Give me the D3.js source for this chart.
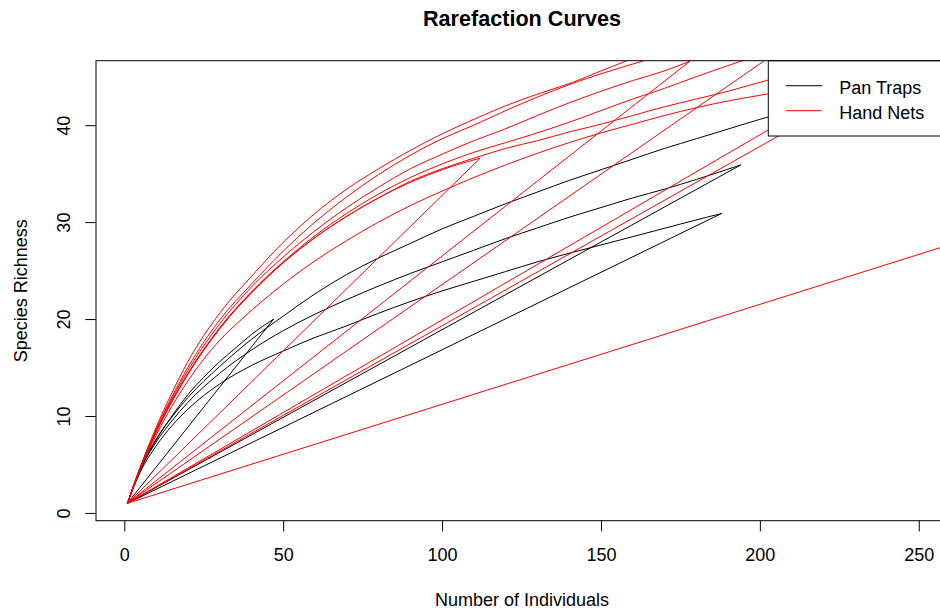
<!DOCTYPE html>
<html>
<head>
<meta charset="utf-8">
<script src="https://cdn.jsdelivr.net/npm/d3@7/dist/d3.min.js"></script>
<style>
  body { margin: 0; background: #fff; }
  svg { display: block; font-family: "Liberation Sans", Arial, Helvetica, sans-serif; }
</style>
</head>
<body>
<svg id="chart" width="940" height="611"></svg>
<script>
// tick labels
var xTicks = [0, 50, 100, 150, 200, 250];
var yTicks = [0, 10, 20, 30, 40];

// Pan Traps rarefaction curves (individuals, species); a trailing (1,1) is where the curve was drawn back to the start
var pan1N = [1, 5, 10, 15, 20, 30, 40, 50, 60, 70, 80, 90, 100, 110, 120, 130, 140, 150, 160, 170, 180, 190, 200, 210, 220, 240, 260];
var pan1S = [1, 4.5, 7.6, 9.9, 11.9, 15.1, 17.9, 20.3, 22.6, 24.6, 26.3, 27.8, 29.3, 30.6, 31.9, 33.1, 34.3, 35.4, 36.5, 37.6, 38.6, 39.6, 40.6, 41.5, 42.4, 44.1, 45.7];
var pan2N = [1, 5, 10, 15, 20, 25, 30, 35, 40, 47, 1];
var pan2S = [1, 4.4, 7.5, 10.0, 12.2, 14.0, 15.6, 17.0, 18.4, 20.0, 1];
var pan3N = [1, 5, 10, 15, 20, 30, 40, 50, 60, 70, 80, 90, 100, 110, 120, 130, 140, 150, 160, 170, 180, 194, 1];
var pan3S = [1, 4.4, 7.3, 9.5, 11.4, 14.4, 16.8, 18.8, 20.5, 22.0, 23.4, 24.7, 25.9, 27.1, 28.3, 29.4, 30.5, 31.5, 32.5, 33.4, 34.4, 35.9, 1];
var pan4N = [1, 5, 10, 15, 20, 30, 40, 50, 60, 70, 80, 90, 100, 110, 120, 130, 146, 160, 175, 188, 1];
var pan4S = [1, 4.2, 6.9, 9.0, 10.7, 13.3, 15.2, 16.7, 18.1, 19.3, 20.6, 21.8, 22.9, 23.9, 24.9, 25.9, 27.3, 28.5, 29.8, 30.9, 1];

// Hand Nets rarefaction curves
var net1N = [1, 5, 10, 15, 20, 30, 40, 50, 60, 70, 80, 90, 100, 110, 120, 130, 141, 150, 157, 170, 190, 210, 230, 242, 1];
var net1S = [1, 4.7, 8.8, 12.4, 15.6, 20.6, 24.4, 27.9, 30.9, 33.4, 35.5, 37.4, 39.1, 40.6, 42.0, 43.2, 44.4, 45.6, 46.5, 48.3, 50.6, 52.7, 54.6, 55.9, 1];
var net2N = [1, 5, 10, 15, 20, 30, 40, 50, 60, 70, 80, 90, 100, 110, 120, 130, 141, 150, 164, 180, 200, 250, 300, 1];
var net2S = [1, 4.7, 8.6, 12.0, 15.0, 19.9, 23.6, 27.0, 30.0, 32.6, 34.9, 36.9, 38.6, 40.0, 41.5, 42.9, 44.3, 45.3, 46.7, 48.3, 50.2, 54.3, 58.1, 1];
var net3N = [1, 5, 10, 15, 20, 30, 40, 50, 60, 70, 80, 90, 100, 110, 119, 130, 140, 150, 160, 170, 178, 1];
var net3S = [1, 4.7, 8.5, 11.8, 14.7, 19.5, 23.3, 26.4, 29.1, 31.5, 33.6, 35.5, 37.0, 38.4, 39.5, 41.0, 42.3, 43.5, 44.6, 45.6, 46.6, 1];
var net4N = [1, 5, 10, 15, 20, 30, 40, 50, 60, 70, 80, 90, 100, 110, 120, 128, 140, 150, 160, 170, 180, 195, 210, 230, 250, 300, 1];
var net4S = [1, 4.6, 8.4, 11.6, 14.4, 19.1, 22.8, 25.9, 28.6, 30.9, 32.9, 34.6, 36.0, 37.2, 38.2, 39.0, 40.3, 41.5, 42.7, 43.8, 45.0, 46.7, 48.2, 50.0, 51.7, 56.3, 1];
var net5N = [1, 5, 10, 15, 20, 30, 40, 50, 60, 70, 80, 90, 100, 112, 120, 130, 140, 150, 160, 170, 180, 190, 202, 220, 240, 260, 520, 1];
var net5S = [1, 4.6, 8.3, 11.5, 14.3, 19.0, 22.7, 25.8, 28.4, 30.6, 32.5, 34.2, 35.5, 36.8, 37.6, 38.4, 39.3, 40.1, 41.0, 41.9, 42.7, 43.5, 44.6, 46.0, 47.5, 48.9, 54.5, 1];
var net6N = [1, 5, 10, 15, 20, 30, 37, 50, 60, 70, 80, 90, 100, 110, 120, 130, 140, 150, 160, 170, 180, 190, 202, 220, 240, 260];
var net6S = [1, 4.5, 8.0, 11.0, 13.6, 17.8, 20.0, 23.6, 26.0, 28.1, 30.0, 31.7, 33.2, 34.6, 35.9, 37.1, 38.2, 39.2, 40.1, 41.0, 41.8, 42.5, 43.2, 44.4, 45.6, 46.7];
var net7N = [1, 5, 10, 15, 20, 30, 40, 50, 60, 70, 80, 90, 100, 112, 1];
var net7S = [1, 4.6, 8.3, 11.5, 14.3, 19.0, 22.7, 25.8, 28.4, 30.6, 32.5, 34.1, 35.4, 36.6, 1];

var groups = ['Pan Traps', 'Hand Nets'];
var groupColors = ['#000000', '#ff0000'];

var curves = [
  {group: 0, n: pan1N, s: pan1S},
  {group: 0, n: pan2N, s: pan2S},
  {group: 0, n: pan3N, s: pan3S},
  {group: 0, n: pan4N, s: pan4S},
  {group: 1, n: net1N, s: net1S},
  {group: 1, n: net2N, s: net2S},
  {group: 1, n: net3N, s: net3S},
  {group: 1, n: net4N, s: net4S},
  {group: 1, n: net5N, s: net5S},
  {group: 1, n: net6N, s: net6S},
  {group: 1, n: net7N, s: net7S}
];

var svg = d3.select('#chart');
var plot = {left: 96, right: 948, top: 60.7, bottom: 520.7};
var fontSize = 18;

var x = d3.scaleLinear().domain([-8.9, 259.2]).range([plot.left, plot.right]);
var y = d3.scaleLinear().domain([-0.8, 46.65]).range([plot.bottom, plot.top]);

svg.append('defs').append('clipPath').attr('id', 'plotclip')
  .append('rect')
  .attr('x', plot.left).attr('y', plot.top)
  .attr('width', plot.right - plot.left).attr('height', plot.bottom - plot.top);

var smooth = d3.line()
  .curve(d3.curveMonotoneX)
  .x(function(d) { return x(d[0]); })
  .y(function(d) { return y(d[1]); });
var straight = d3.line()
  .x(function(d) { return x(d[0]); })
  .y(function(d) { return y(d[1]); });

// split each series into the rising curve and the jump back to the start
function pieces(d) {
  var pts = d.n.map(function(v, i) { return [v, d.s[i]]; });
  var k = 1;
  while (k < pts.length && pts[k][0] > pts[k - 1][0]) k++;
  return {rise: pts.slice(0, k), back: pts.slice(k - 1)};
}

var g = svg.append('g').attr('clip-path', 'url(#plotclip)');

var cg = g.selectAll('g.curve')
  .data(curves)
  .enter().append('g')
  .attr('class', 'curve')
  .attr('fill', 'none')
  .attr('stroke', function(d) { return groupColors[d.group]; })
  .attr('stroke-width', 1);

cg.append('path').attr('d', function(d) { return smooth(pieces(d).rise); });
cg.filter(function(d) { return pieces(d).back.length > 1; })
  .append('path').attr('d', function(d) { return straight(pieces(d).back); });

// legend (topright, white background hides what is under it)
var leg = svg.append('g');
leg.append('rect')
  .attr('x', 768.3).attr('y', plot.top)
  .attr('width', plot.right - 768.3).attr('height', 75.3)
  .attr('fill', '#fff').attr('stroke', '#000').attr('stroke-width', 1);

var legItem = leg.selectAll('g.item')
  .data(groups)
  .enter().append('g')
  .attr('class', 'item')
  .attr('transform', function(d, i) { return 'translate(0,' + (85.7 + i * 25) + ')'; });

legItem.append('line')
  .attr('x1', 786).attr('x2', 822)
  .attr('stroke', function(d, i) { return groupColors[i]; })
  .attr('stroke-width', 1);

legItem.append('text')
  .attr('x', 839.3).attr('y', 8.6)
  .attr('font-size', fontSize)
  .text(function(d) { return d; });

// box
svg.append('rect')
  .attr('x', plot.left).attr('y', plot.top)
  .attr('width', plot.right - plot.left).attr('height', plot.bottom - plot.top)
  .attr('fill', 'none').attr('stroke', '#000').attr('stroke-width', 1);

// axes
var xAxis = svg.append('g')
  .attr('transform', 'translate(0,' + plot.bottom + ')')
  .call(d3.axisBottom(x).tickValues(xTicks).tickSize(10.7).tickPadding(17.3));
xAxis.select('.domain').remove();
xAxis.selectAll('text').attr('font-size', fontSize).attr('fill', '#000');
xAxis.selectAll('line').attr('stroke', '#000');

var yAxis = svg.append('g')
  .attr('transform', 'translate(' + plot.left + ',0)')
  .call(d3.axisLeft(y).tickValues(yTicks).tickSize(10.7));
yAxis.select('.domain').remove();
yAxis.selectAll('line').attr('stroke', '#000');
yAxis.selectAll('text')
  .attr('x', 0).attr('dy', null)
  .attr('font-size', fontSize).attr('fill', '#000')
  .attr('text-anchor', 'middle')
  .attr('transform', 'translate(-26.5,0) rotate(-90)');
svg.selectAll('.tick text').style('font-family', '"Liberation Sans", Arial, sans-serif');

// titles
svg.append('text')
  .attr('x', 522).attr('y', 26)
  .attr('text-anchor', 'middle')
  .attr('font-size', 21.6).attr('font-weight', 'bold')
  .text('Rarefaction Curves');

svg.append('text')
  .attr('x', 522).attr('y', 606)
  .attr('text-anchor', 'middle')
  .attr('font-size', fontSize)
  .text('Number of Individuals');

svg.append('text')
  .attr('transform', 'translate(26.5,' + ((plot.top + plot.bottom) / 2) + ') rotate(-90)')
  .attr('text-anchor', 'middle')
  .attr('font-size', fontSize)
  .text('Species Richness');
</script>
</body>
</html>
